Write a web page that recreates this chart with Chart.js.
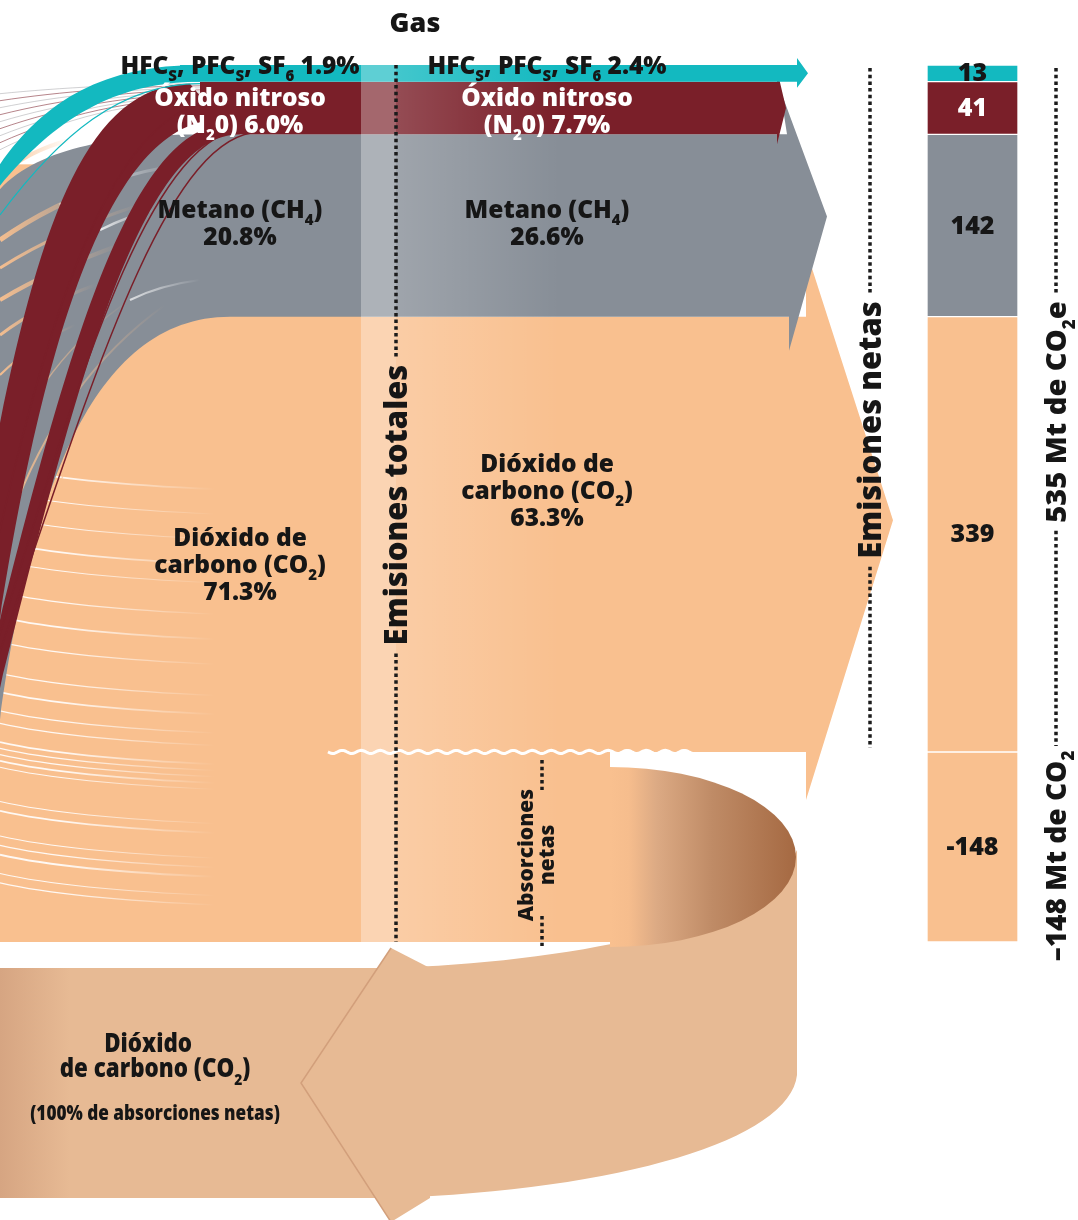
<!DOCTYPE html>
<html lang="es">
<head>
<meta charset="utf-8">
<title>Emisiones por gas</title>
<script src="https://cdn.jsdelivr.net/npm/chart.js@4.4.1/dist/chart.umd.min.js"></script>
<style>
    html, body { margin: 0; padding: 0; background: #fff; }
    #wrap { width: 1078px; height: 1220px; }
</style>
</head>
<body>
<div id="wrap"><canvas id="gasChart" width="1078" height="1220"></canvas></div>
<script>
// Datos en Mt de CO2e (orden de abajo hacia arriba en la barra)
const gases = ['Dióxido de carbono (CO2)', 'Metano (CH4)', 'Óxido nitroso (N2O)', 'HFCs, PFCs, SF6'];
const emisiones = [339, 142, 41, 13];
const absorcionesNetas = [-148];
const pctTotales = [71.3, 20.8, 6.0, 1.9];
const pctNetas = [63.3, 26.6, 7.7, 2.4];

// nombres con subindices marcados con "_"
const nombres = [['Dióxido de', 'carbono (CO_2)'], ['Metano (CH_4)'], ['Óxido nitroso', '(N_20)'], ['HFC_S, PFC_S, SF_6']];
const pctEnLinea = [false, false, true, true];

const COLOR = { co2: '#f9c08f', ch4: '#878e97', n2o: '#7a1f29', hfc: '#13b9c0', tan: '#e7ba94', texto: '#161616' };
const colores = [COLOR.co2, COLOR.ch4, COLOR.n2o, COLOR.hfc];
const colorTexto = ['#161616', '#161616', '#ffffff', '#161616'];
const FUENTE = '"Open Sans", "Noto Sans", sans-serif';
const PESO = 800;

// layout
const X_TOT = 361;   // inicio de la columna "Emisiones totales"
const X_DOT = 396;   // linea punteada
const X_LBL1 = 240;
const X_LBL2 = 547;

function partes(str) {
    // "CH_4" -> [['CH', false], ['4', true]]
    const out = [];
    let buf = '';
    for (let i = 0; i < str.length; i++) {
        if (str[i] === '_' && i + 1 < str.length) {
            if (buf) out.push([buf, false]);
            buf = '';
            out.push([str[i + 1], true]);
            i++;
        } else {
            buf += str[i];
        }
    }
    if (buf) out.push([buf, false]);
    return out;
}

function anchoRico(ctx, str, size) {
    let w = 0;
    partes(str).forEach(([t, sub]) => {
        ctx.font = `${PESO} ${sub ? Math.round(size * 0.6) : size}px ${FUENTE}`;
        w += ctx.measureText(t).width;
    });
    return w;
}

function textoRico(ctx, str, x, y, size, color, align) {
    const w = anchoRico(ctx, str, size);
    let cx = align === 'center' ? x - w / 2 : (align === 'right' ? x - w : x);
    ctx.fillStyle = color;
    ctx.textAlign = 'left';
    ctx.textBaseline = 'alphabetic';
    partes(str).forEach(([t, sub]) => {
        ctx.font = `${PESO} ${sub ? Math.round(size * 0.6) : size}px ${FUENTE}`;
        ctx.fillText(t, cx, sub ? y + size * 0.3 : y);
        cx += ctx.measureText(t).width;
    });
    return w;
}

function punteada(ctx, x, y0, y1) {
    if (y1 <= y0) return;
    ctx.save();
    ctx.strokeStyle = '#1b1b1b';
    ctx.lineWidth = 3.5;
    ctx.setLineDash([3.5, 3.2]);
    ctx.beginPath();
    ctx.moveTo(x, y0);
    ctx.lineTo(x, y1);
    ctx.stroke();
    ctx.restore();
}

// texto vertical con linea punteada arriba y abajo
function textoVertical(ctx, str, x, yc, size, y0, y1) {
    const w = anchoRico(ctx, str, size);
    ctx.save();
    ctx.translate(x + size * 0.36, yc);
    ctx.rotate(-Math.PI / 2);
    textoRico(ctx, str, 0, 0, size, COLOR.texto, 'center');
    ctx.restore();
    if (y0 !== undefined) punteada(ctx, x, y0, yc - w / 2 - 8);
    if (y1 !== undefined) punteada(ctx, x, yc + w / 2 + 8, y1);
}

function trazoDesvanecido(ctx, pts, color, ancho, x0, x1) {
    const g = ctx.createLinearGradient(x0, 0, x1, 0);
    g.addColorStop(0, color);
    g.addColorStop(1, color.replace(/[\d.]+\)$/, '0)'));
    ctx.strokeStyle = g;
    ctx.lineWidth = ancho;
    ctx.beginPath();
    ctx.moveTo(pts[0], pts[1]);
    if (pts.length === 6) ctx.quadraticCurveTo(pts[2], pts[3], pts[4], pts[5]);
    else ctx.bezierCurveTo(pts[2], pts[3], pts[4], pts[5], pts[6], pts[7]);
    ctx.stroke();
}

function cinta(ctx, a, b, color) {
    // a y b: bordes [x0,y0, c1x,c1y, c2x,c2y, x1,y1]
    ctx.fillStyle = color;
    ctx.beginPath();
    ctx.moveTo(a[0], a[1]);
    ctx.bezierCurveTo(a[2], a[3], a[4], a[5], a[6], a[7]);
    ctx.lineTo(b[6], b[7]);
    ctx.bezierCurveTo(b[4], b[5], b[2], b[3], b[0], b[1]);
    ctx.closePath();
    ctx.fill();
}

// lazo de absorciones que regresa hacia la izquierda
function lazoInferior(ctx, cero, yAbs) {
    const top = yAbs + 26, bot = yAbs + 256, xb = 390, xt = 301, xr = 797;
    const g = ctx.createLinearGradient(0, 0, 70, 0);
    g.addColorStop(0, '#d6a582');
    g.addColorStop(1, COLOR.tan);
    ctx.fillStyle = g;
    ctx.fillRect(0, top, xb, bot - top);

    ctx.fillStyle = COLOR.tan;
    ctx.beginPath();
    ctx.moveTo(xb, top);
    ctx.bezierCurveTo(560, top - 6, 760, top - 38, xr, cero + 98);
    ctx.lineTo(xr, cero + 323);
    ctx.bezierCurveTo(790, cero + 388, 620, bot - 8, xb, bot);
    ctx.closePath();
    ctx.fill();

    ctx.beginPath();
    ctx.moveTo(xb + 1, yAbs + 6);
    ctx.lineTo(xt, (top + bot) / 2);
    ctx.lineTo(xb + 1, bot + 24);
    ctx.lineTo(xb + 40, bot);
    ctx.lineTo(xb + 40, top);
    ctx.closePath();
    ctx.fill();
    ctx.strokeStyle = '#d29f7b';
    ctx.lineWidth = 1.5;
    ctx.beginPath();
    ctx.moveTo(xb + 1, yAbs + 6);
    ctx.lineTo(xt, (top + bot) / 2);
    ctx.lineTo(xb + 1, bot + 24);
    ctx.stroke();
}

// abanico de flujos a la izquierda de las emisiones totales
function flujosIzquierda(ctx, b, cero, yAbs) {
    const [co2, ch4, n2o, hfc] = b;
    // base de CO2
    ctx.fillStyle = COLOR.co2;
    ctx.fillRect(0, ch4.top + 30, X_TOT, yAbs - ch4.top - 30);

    // lineas blancas finas dentro del CO2
    const lineasCO2 = [0.25, 0.29, 0.33, 0.37, 0.40, 0.45, 0.49, 0.53, 0.58, 0.61, 0.64, 0.66, 0.69, 0.70,
        0.71, 0.72, 0.73, 0.785, 0.80, 0.84, 0.855, 0.87, 0.90, 0.915];
    const hTot = yAbs - co2.top;
    lineasCO2.forEach((t, i) => {
        const y = co2.top + t * hTot;
        trazoDesvanecido(ctx, [0, y - 6, 70, y + 10, 215, y + 16], 'rgba(255,255,255,0.9)', i % 3 === 0 ? 1.8 : 1.1, 60, 215);
    });

    // region del metano
    ctx.fillStyle = COLOR.ch4;
    ctx.beginPath();
    ctx.moveTo(X_TOT, ch4.top);
    ctx.lineTo(210, ch4.top);
    ctx.bezierCurveTo(120, ch4.top, 40, ch4.top + 12, 0, ch4.top + 55);
    ctx.lineTo(0, co2.top + 403);
    ctx.bezierCurveTo(30, co2.top + 183, 90, co2.top, 230, co2.top);
    ctx.lineTo(X_TOT, co2.top);
    ctx.closePath();
    ctx.fill();

    // vetas naranjas dentro del metano
    const vetas = [
        [0, 175, 30, 150, 70, 140, 4],
        [0, 240, 50, 205, 115, 182, 5],
        [0, 268, 60, 230, 140, 205, 3],
        [0, 300, 50, 270, 120, 245, 4],
        [0, 335, 40, 305, 95, 285, 3],
        [0, 375, 30, 345, 75, 325, 2],
        [10, 520, 60, 380, 165, 305, 2],
        [30, 560, 80, 400, 190, 318, 1.5],
        [0, 470, 40, 360, 130, 300, 1.5]
    ];
    vetas.forEach(v => trazoDesvanecido(ctx, [v[0], v[1], v[2], v[3], v[4], v[5]], 'rgba(249,192,143,0.95)', v[6], 0, v[4]));
    trazoDesvanecido(ctx, [60, 205, 110, 175, 180, 165], 'rgba(255,255,255,0.8)', 3, 60, 180);
    trazoDesvanecido(ctx, [100, 230, 130, 215, 155, 210], 'rgba(255,255,255,0.8)', 2.5, 100, 155);
    trazoDesvanecido(ctx, [130, 300, 160, 285, 200, 280], 'rgba(255,255,255,0.7)', 2, 130, 200);

    // lineas rojas finas arriba a la izquierda
    for (let k = 0; k < 9; k++) {
        ctx.strokeStyle = k % 2 ? 'rgba(122,31,41,0.55)' : 'rgba(150,150,155,0.45)';
        ctx.lineWidth = 1;
        ctx.beginPath();
        ctx.moveTo(0, n2o.top + 12 + k * 7);
        ctx.bezierCurveTo(60, n2o.top + 6 + k * 4, 130, n2o.top + 2 + k * 2, 220, n2o.top + 2 + k * 2);
        ctx.stroke();
    }

    // cintas de oxido nitroso (entran por el borde izquierdo)
    cinta(ctx, [-40, 640, 15, 330, 55, n2o.top + 2, 190, n2o.top + 2],
        [-12, 700, 35, 360, 105, n2o.top + 38, 220, n2o.top + 38], COLOR.n2o);
    cinta(ctx, [-25, 720, 55, 400, 120, n2o.top + 42, 230, n2o.top + 42],
        [-8, 720, 70, 410, 136, n2o.bottom, 240, n2o.bottom], COLOR.n2o);
    ctx.strokeStyle = COLOR.n2o;
    ctx.lineWidth = 1.5;
    [[-30, 740, 80, 420, 160, n2o.bottom - 2, 260, n2o.bottom - 2],
     [-30, 730, 65, 430, 140, n2o.bottom - 6, 250, n2o.bottom - 6],
     [-40, 720, 20, 420, 90, n2o.top + 20, 220, n2o.top + 20]].forEach(p => {
        ctx.beginPath();
        ctx.moveTo(p[0], p[1]);
        ctx.bezierCurveTo(p[2], p[3], p[4], p[5], p[6], p[7]);
        ctx.stroke();
    });
    ctx.fillStyle = COLOR.n2o;
    ctx.fillRect(200, n2o.top, X_TOT - 200, n2o.bottom - n2o.top);

    // cinta de HFC
    cinta(ctx, [-6, hfc.top + 108, 40, hfc.top + 38, 100, hfc.top, 200, hfc.top],
        [-6, hfc.top + 128, 50, hfc.top + 58, 110, hfc.bottom, 200, hfc.bottom], COLOR.hfc);
    ctx.strokeStyle = COLOR.hfc;
    ctx.lineWidth = 1.2;
    ctx.beginPath();
    ctx.moveTo(0, hfc.top + 150);
    ctx.bezierCurveTo(60, hfc.top + 70, 120, hfc.bottom + 2, 200, hfc.bottom + 2);
    ctx.stroke();
    ctx.fillStyle = COLOR.hfc;
    ctx.fillRect(180, hfc.top, X_TOT - 180, hfc.bottom - hfc.top);
}

function bandas(ctx, b, cero, yAbs) {
    const [co2, ch4, n2o, hfc] = b;
    // CO2 (parte positiva) con flecha
    ctx.fillStyle = COLOR.co2;
    ctx.beginPath();
    ctx.moveTo(X_TOT, co2.top);
    ctx.lineTo(806, co2.top);
    ctx.lineTo(806, co2.top - 67);
    ctx.lineTo(893, (co2.top + cero) / 2 - 14);
    ctx.lineTo(806, cero + 48);
    ctx.lineTo(806, cero);
    ctx.lineTo(X_TOT, cero);
    ctx.closePath();
    ctx.fill();
    // absorciones: rectangulo y elipse
    const cx = 610, cy = (cero + yAbs) / 2 + 10, rx = 186, ry = (yAbs - cero) / 2 - 5;
    ctx.fillRect(X_TOT - 1, cero, cx - X_TOT + 1, yAbs - cero);
    const g = ctx.createLinearGradient(cx, 0, cx + rx, 0);
    g.addColorStop(0, COLOR.co2);
    g.addColorStop(0.1, '#f6bd8d');
    g.addColorStop(0.25, '#dcaa84');
    g.addColorStop(0.55, '#bf8b66');
    g.addColorStop(1, '#a56942');
    ctx.fillStyle = g;
    ctx.beginPath();
    ctx.moveTo(cx, cy - ry);
    ctx.ellipse(cx, cy, rx, ry, 0, -Math.PI / 2, Math.PI / 2);
    ctx.closePath();
    ctx.fill();

    // metano
    ctx.fillStyle = COLOR.ch4;
    ctx.beginPath();
    ctx.moveTo(X_TOT, ch4.top);
    ctx.lineTo(787, ch4.top);
    ctx.lineTo(780, ch4.top - 45);
    ctx.lineTo(827, (ch4.top + ch4.bottom) / 2 - 9);
    ctx.lineTo(789, ch4.bottom + 34);
    ctx.lineTo(789, ch4.bottom);
    ctx.lineTo(X_TOT, ch4.bottom);
    ctx.closePath();
    ctx.fill();

    // oxido nitroso
    ctx.fillStyle = COLOR.n2o;
    ctx.beginPath();
    ctx.moveTo(X_TOT, n2o.top);
    ctx.lineTo(777, n2o.top);
    ctx.lineTo(777, n2o.top - 12);
    ctx.lineTo(786, (n2o.top + n2o.bottom) / 2);
    ctx.lineTo(777, n2o.bottom + 10);
    ctx.lineTo(777, n2o.bottom);
    ctx.lineTo(X_TOT, n2o.bottom);
    ctx.closePath();
    ctx.fill();

    // HFC
    ctx.fillStyle = COLOR.hfc;
    ctx.beginPath();
    ctx.moveTo(X_TOT, hfc.top);
    ctx.lineTo(797, hfc.top);
    ctx.lineTo(797, hfc.top - 7);
    ctx.lineTo(808, (hfc.top + hfc.bottom) / 2);
    ctx.lineTo(797, hfc.bottom + 6);
    ctx.lineTo(797, hfc.bottom);
    ctx.lineTo(X_TOT, hfc.bottom);
    ctx.closePath();
    ctx.fill();

    // franja clara de emisiones totales
    ctx.fillStyle = 'rgba(255,255,255,0.32)';
    ctx.fillRect(X_TOT, hfc.top, X_DOT - X_TOT, yAbs - hfc.top);
    const gl = ctx.createLinearGradient(X_DOT, 0, 560, 0);
    gl.addColorStop(0, 'rgba(255,255,255,0.2)');
    gl.addColorStop(1, 'rgba(255,255,255,0)');
    ctx.fillStyle = gl;
    ctx.fillRect(X_DOT, hfc.top, 560 - X_DOT, yAbs - hfc.top);

    // borde ondulado en el cero
    ctx.strokeStyle = '#ffffff';
    ctx.lineWidth = 3;
    ctx.beginPath();
    for (let x = 328; x <= 694; x += 1.5) {
        const yy = cero + 1.6 * Math.sin((x - 328) / 19 * 2 * Math.PI);
        if (x === 328) ctx.moveTo(x, yy); else ctx.lineTo(x, yy);
    }
    ctx.stroke();
}

const flujos = {
    id: 'flujos',
    beforeDatasetsDraw(chart) {
        const ctx = chart.ctx, ys = chart.scales.y;
        const b = [];
        let acc = 0;
        emisiones.forEach(v => {
            const bottom = ys.getPixelForValue(acc);
            acc += v;
            b.push({ top: ys.getPixelForValue(acc), bottom });
        });
        const cero = ys.getPixelForValue(0);
        const yAbs = ys.getPixelForValue(absorcionesNetas[0]);
        chart.$bandas = { b, cero, yAbs };
        ctx.save();
        lazoInferior(ctx, cero, yAbs);
        flujosIzquierda(ctx, b, cero, yAbs);
        bandas(ctx, b, cero, yAbs);
        ctx.restore();
    },
    afterDatasetsDraw(chart) {
        const ctx = chart.ctx;
        const { b, cero, yAbs } = chart.$bandas;
        ctx.save();

        // valores dentro de la barra
        chart.data.datasets.forEach((ds, i) => {
            const el = chart.getDatasetMeta(i).data[0];
            const yc = (el.y + el.base) / 2;
            ctx.font = `${PESO} 25px ${FUENTE}`;
            ctx.fillStyle = i < colorTexto.length ? colorTexto[i] : COLOR.texto;
            ctx.textAlign = 'center';
            ctx.textBaseline = 'middle';
            ctx.fillText(String(ds.data[0]), el.x, yc + 1);
        });

        // titulo
        ctx.font = `${PESO} 27px ${FUENTE}`;
        ctx.fillStyle = COLOR.texto;
        ctx.textAlign = 'center';
        ctx.textBaseline = 'alphabetic';
        ctx.fillText('Gas', 415, 32);

        // etiquetas de cada gas (totales y netas)
        const base1 = [546, 218, 106, 74];
        const base2 = [472, 218, 106, 74];
        gases.forEach((g, i) => {
            [[X_LBL1, base1[i], pctTotales[i]], [X_LBL2, base2[i], pctNetas[i]]].forEach(([x, y0, p]) => {
                const lineas = nombres[i].slice();
                const pct = p.toFixed(1) + '%';
                if (pctEnLinea[i]) lineas[lineas.length - 1] += ' ' + pct;
                else lineas.push(pct);
                lineas.forEach((l, k) => textoRico(ctx, l, x, y0 + k * 27, 24.5, colorTexto[i], 'center'));
            });
        });

        // lineas punteadas y textos verticales
        textoVertical(ctx, 'Emisiones totales', X_DOT, 505, 31, b[3].top, yAbs);
        textoVertical(ctx, 'Emisiones netas', 870, 430, 31, b[3].top + 3, cero - 4);
        const totalNetas = emisiones.reduce((s, v) => s + v, 0);
        textoVertical(ctx, `${totalNetas} Mt de CO_2e`, 1056, 412, 29, b[3].top + 3, cero - 6);
        textoVertical(ctx, `\u2013${Math.abs(absorcionesNetas[0])} Mt de CO_2`, 1056, 856, 28);

        // absorciones netas
        ctx.save();
        ctx.translate(533, 855);
        ctx.rotate(-Math.PI / 2);
        textoRico(ctx, 'Absorciones', 0, 0, 21, COLOR.texto, 'center');
        textoRico(ctx, 'netas', 0, 21, 21, COLOR.texto, 'center');
        ctx.restore();
        punteada(ctx, 542, cero + 8, cero + 38);
        punteada(ctx, 542, yAbs - 26, yAbs + 4);

        // texto del lazo
        ctx.save();
        ctx.translate(155, 0);
        ctx.scale(0.86, 1);
        textoRico(ctx, 'Dióxido', -8, 1052, 26, COLOR.texto, 'center');
        textoRico(ctx, 'de carbono (CO_2)', 0, 1077, 26, COLOR.texto, 'center');
        ctx.scale(0.95, 1);
        textoRico(ctx, '(100% de absorciones netas)', 0, 1120, 21, COLOR.texto, 'center');
        ctx.restore();

        ctx.restore();
    }
};

const datasets = gases.map((g, i) => ({
    label: g,
    data: [emisiones[i]],
    backgroundColor: colores[i],
    borderColor: 'rgba(255,255,255,0.45)',
    borderWidth: 1,
    borderSkipped: false,
    barPercentage: 1,
    categoryPercentage: 1
}));
datasets.push({
    label: 'Absorciones netas',
    data: absorcionesNetas,
    backgroundColor: COLOR.co2,
    borderColor: 'rgba(255,255,255,0.45)',
    borderWidth: 1,
    borderSkipped: false,
    barPercentage: 1,
    categoryPercentage: 1
});

const ctx = document.getElementById('gasChart').getContext('2d');
const gasChart = new Chart(ctx, {
    type: 'bar',
    data: { labels: ['Gas'], datasets: datasets },
    options: {
        responsive: false,
        animation: false,
        layout: { padding: { left: 927, right: 60, top: 65, bottom: 278 } },
        scales: {
            x: { display: false, stacked: true },
            y: {
                display: false,
                stacked: true,
                min: absorcionesNetas[0],
                max: emisiones.reduce((s, v) => s + v, 0)
            }
        },
        plugins: {
            legend: { display: false },
            tooltip: { enabled: false }
        }
    },
    plugins: [flujos]
});
</script>
</body>
</html>
